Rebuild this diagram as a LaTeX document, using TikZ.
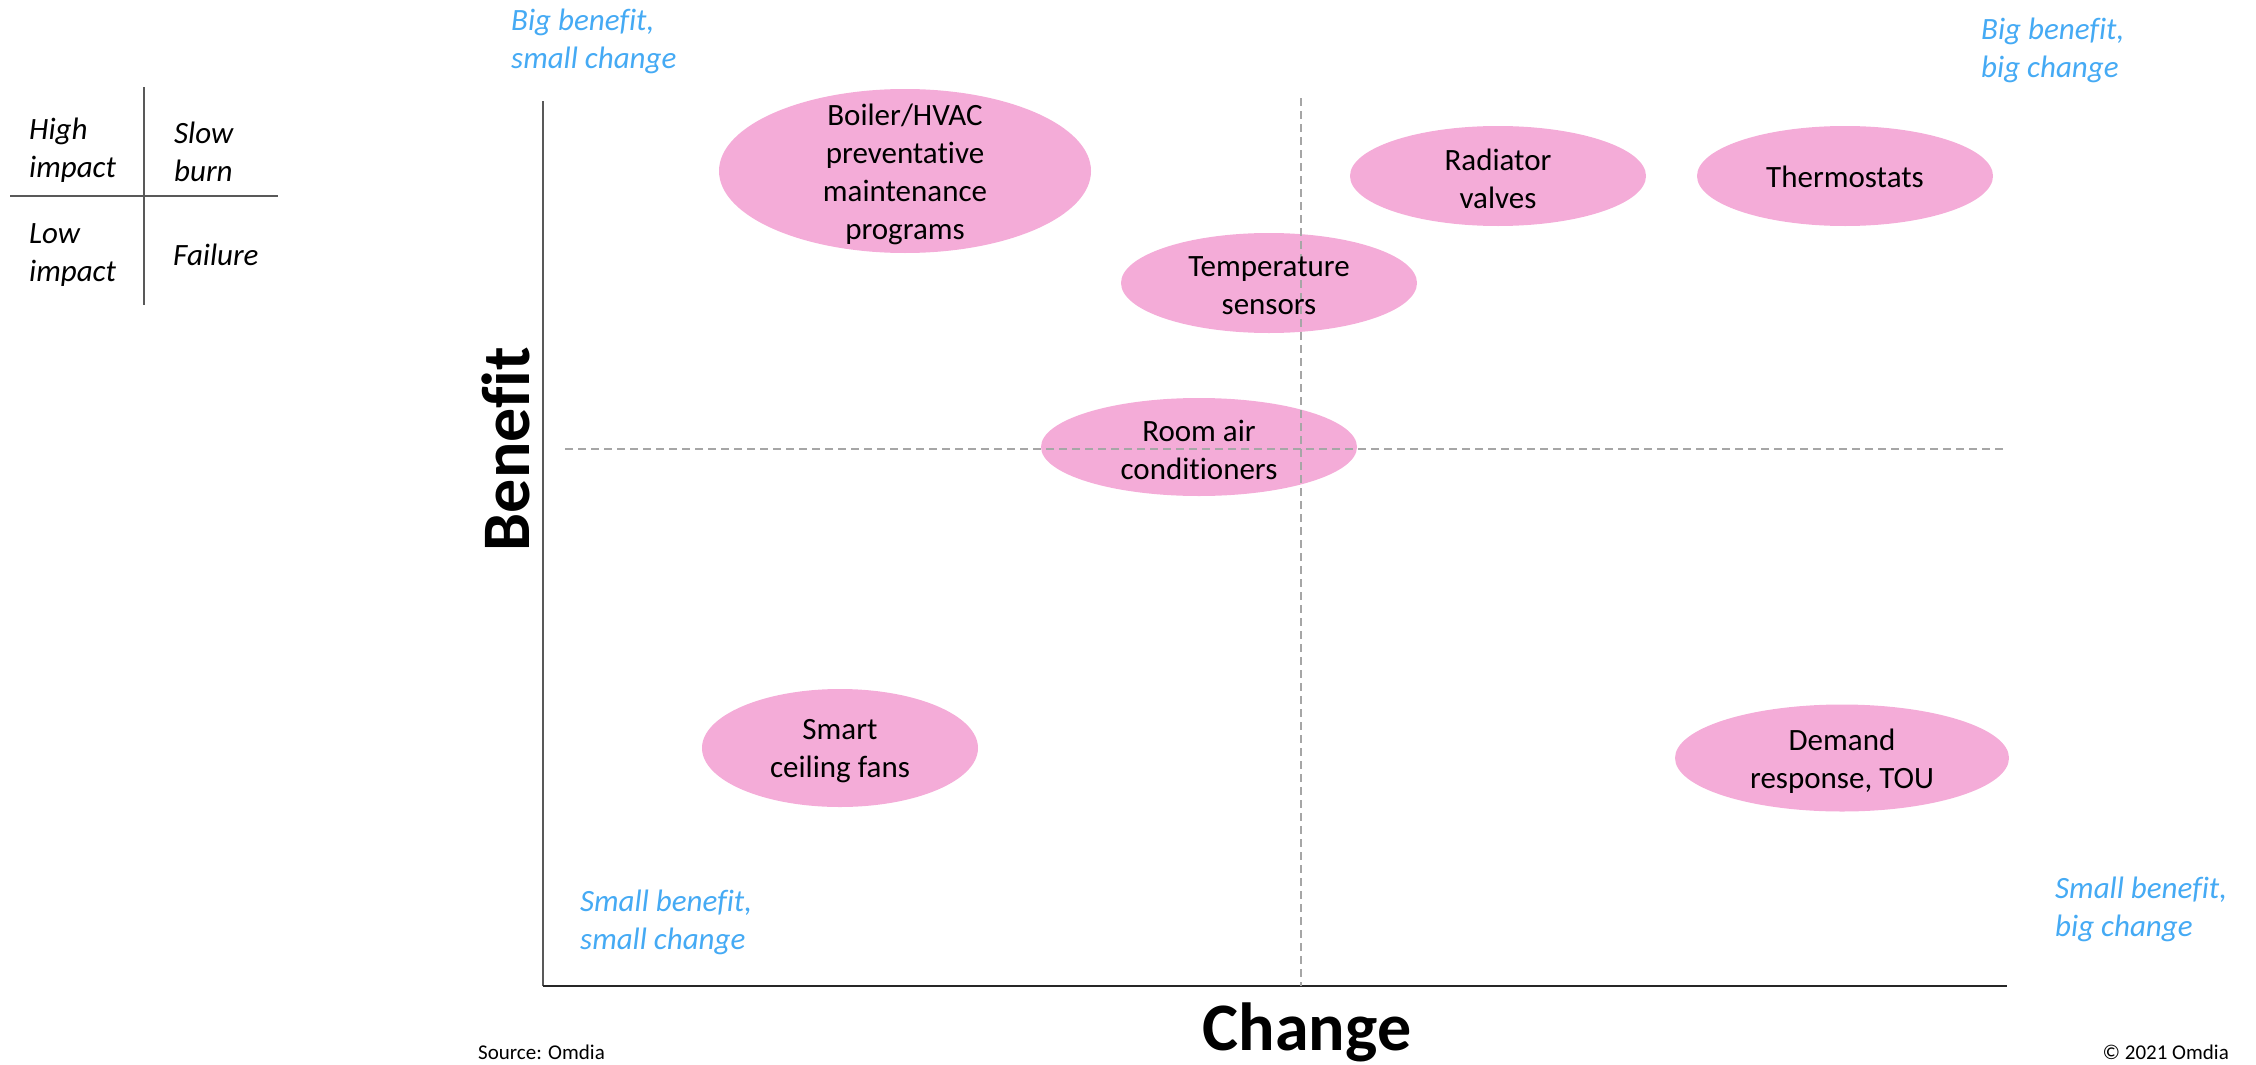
\documentclass[tikz,border=0pt]{standalone}
\usepackage{fontspec}
\setmainfont[Ligatures=CommonOff]{Carlito}
\usetikzlibrary{shapes.geometric}
\definecolor{bubblepink}{HTML}{F4ACD8}
\definecolor{quadblue}{HTML}{45AAF4}
\definecolor{axisgray}{HTML}{595959}
\definecolor{dashgray}{HTML}{A6A6A6}
\tikzset{
  bubble/.style={ellipse, fill=bubblepink, draw=none, inner sep=0pt},
  bubtext/.style={align=center, inner sep=0pt, font=\fontsize{31}{38}\selectfont},
  quadlabel/.style={anchor=west, align=left, inner sep=0pt, text=quadblue, font=\fontsize{31}{38}\selectfont\itshape},
  legtext/.style={anchor=west, align=left, inner sep=0pt, font=\fontsize{31}{38}\selectfont\itshape},
  axistitle/.style={inner sep=0pt, font=\fontsize{68}{72}\selectfont\bfseries},
  foot/.style={inner sep=0pt, font=\fontsize{21}{25}\selectfont},
  guide/.style={draw=dashgray, line width=1.5pt, dash pattern=on 8pt off 5pt},
  axisline/.style={line width=2pt}
}
\begin{document}
\begin{tikzpicture}[x=1pt,y=-1pt]
\useasboundingbox (0,0) rectangle (2256,1065);
% legend grid
\coordinate (lgt) at (144,87);
\coordinate (lgb) at (144,305);
\coordinate (lgl) at (10,196);
\coordinate (lgr) at (278,196);
\draw[axisgray, line width=1.8pt] (lgt) -- (lgb);
\draw[axisgray, line width=1.8pt] (lgl) -- (lgr);
\node[legtext] (hi) at (29,150) {High\\impact};
\node[legtext] (sb) at (174,152) {Slow\\burn};
\node[legtext] (lo) at (29,255) {Low\\impact};
\node[legtext] (fa) at (173,255) {Failure};
% axes
\coordinate (origin) at (543,986);
\coordinate (ytop) at (543,101);
\coordinate (xend) at (2007,986);
\draw[axisline, axisgray] (origin) -- (ytop);
\draw[axisline, black!85] (origin) -- (xend);
% bubbles
\node[bubble, minimum width=372pt, minimum height=164pt] (boiler) at (905,171) {};
\node[bubble, minimum width=296pt, minimum height=100pt] (radiator) at (1498,176) {};
\node[bubble, minimum width=296pt, minimum height=100pt] (thermo) at (1845,176) {};
\node[bubble, minimum width=296pt, minimum height=100pt] (temp) at (1269,283) {};
\node[bubble, minimum width=316pt, minimum height=98pt] (room) at (1199,447) {};
\node[bubble, minimum width=276pt, minimum height=118pt] (fans) at (840,748) {};
\node[bubble, minimum width=334pt, minimum height=107pt] (demand) at (1842,758) {};
% dashed guides
\coordinate (vtop) at (1301,98);
\coordinate (vbot) at (1301,986);
\coordinate (hleft) at (565,449);
\coordinate (hright) at (2007,449);
\draw[guide] (vtop) -- (vbot);
\draw[guide] (hleft) -- (hright);
% bubble texts
\node[bubtext] at ([yshift=-3pt]boiler.center) {Boiler/HVAC\\preventative\\maintenance\\programs};
\node[bubtext] at ([yshift=-3pt]radiator.center) {Radiator\\valves};
\node[bubtext] at ([yshift=-1pt]thermo.center) {Thermostats};
\node[bubtext] at ([yshift=-3pt]temp.center) {Temperature\\sensors};
\node[bubtext] at ([yshift=-3pt]room.center) {Room air\\conditioners};
\node[bubtext] at ([yshift=-3pt]fans.center) {Smart\\ceiling fans};
\node[bubtext] at ([yshift=-3pt]demand.center) {Demand\\response, TOU};
% quadrant labels
\node[quadlabel] (q1) at (511,41) {Big benefit,\\small change};
\node[quadlabel] (q2) at (1981,50) {Big benefit,\\big change};
\node[quadlabel] (q3) at (580,922) {Small benefit,\\small change};
\node[quadlabel] (q4) at (2055,909) {Small benefit,\\big change};
% axis titles
\node[axistitle, rotate=90] (benefit) at (506,449) {Benefit};
\node[axistitle] (change) at (1307,1032) {Change};
% footers
\node[foot, anchor=west] (src) at (478,1052) {Source: Omdia};
\node[foot, anchor=east] (copy) at (2229,1052) {© 2021 Omdia};
\end{tikzpicture}
\end{document}
